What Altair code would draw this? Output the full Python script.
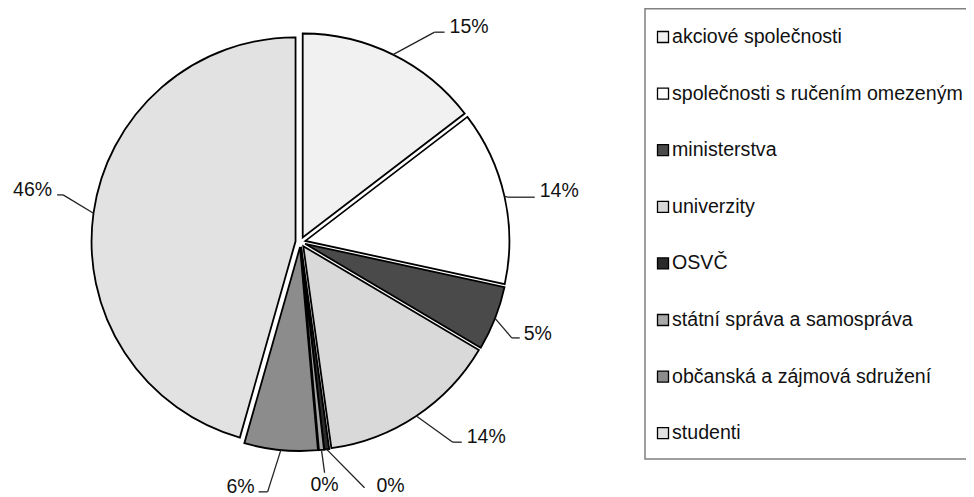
import altair as alt
import pandas as pd

# ---- data ----
categories = [
    "akciové společnosti",
    "společnosti s ručením omezeným",
    "ministerstva",
    "univerzity",
    "OSVČ",
    "státní správa a samospráva",
    "občanská a zájmová sdružení",
    "studenti",
]
shares = [14.6, 13.8, 5.1, 14.3, 0.4, 0.4, 5.8, 45.6]

# ---- styles ----
FILLS = ["#f1f1f1", "#ffffff", "#4a4a4a", "#d9d9d9", "#2a2a2a", "#a8a8a8", "#8c8c8c", "#e2e2e2"]
CX, CY = 292.5, 234.0      # pie centre (px)
R = 204                    # pie radius (px)
EXPLODE = 5                # slice explosion (px)
# leader-line layout (radius of elbow, angular nudge in degrees, horizontal tail)
LEAD_EXT = [249, 212, 232, 251.5, 254, 232, 252, 242]
LEAD_NUDGE = [6.3, 0.4, 3.0, -3.6, -7.4, -0.2, 2.1, 3.3]
LEAD_TAIL = [10, 27, 8, 9, 0, 0, -9, -6]
TEXT_ALIGN = ["left", "left", "left", "left", "left", "center", "right", "right"]
TEXT_DX = [5, 5, 4, 5, 12, 0, -4, -5]
TEXT_DY = [1, 0, 2, 1, 4, 18, 1, 1]
FONT = "Liberation Sans"
LEG_X_SYM, LEG_X_TXT = 655, 664
LEG_Y0, LEG_STEP = 29, 56.6
LEG_FONT_SIZE = 19.6
W, H = 958, 489

df = pd.DataFrame({
    "cat": categories,
    "val": shares,
    "order": list(range(len(categories))),
    "ext": LEAD_EXT,
    "nudge": LEAD_NUDGE,
    "tail": LEAD_TAIL,
    "align": TEXT_ALIGN,
    "tdx": TEXT_DX,
    "tdy": TEXT_DY,
})

base = (
    alt.Chart(df)
    .transform_window(cum="sum(val)", sort=[alt.SortField("order")], frame=[None, 0])
    .transform_joinaggregate(total="sum(val)")
    .transform_calculate(t0="2*PI*(datum.cum-datum.val)/datum.total")
    .transform_calculate(t1="2*PI*datum.cum/datum.total")
    .transform_calculate(mid="(datum.t0+datum.t1)/2")
    .transform_calculate(ox=f"{CX}+{EXPLODE}*sin(datum.mid)")
    .transform_calculate(oy=f"{CY}-{EXPLODE}*cos(datum.mid)")
    .transform_calculate(ax=f"datum.ox+{R}*sin(datum.mid)")
    .transform_calculate(ay=f"datum.oy-{R}*cos(datum.mid)")
    .transform_calculate(ea="datum.mid+datum.nudge*PI/180")
    .transform_calculate(ex=f"{CX}+datum.ext*sin(datum.ea)")
    .transform_calculate(ey=f"{CY}-datum.ext*cos(datum.ea)")
    .transform_calculate(hx="datum.ex+datum.tail")
    .transform_calculate(tx="datum.hx+datum.tdx")
    .transform_calculate(ty="datum.ey+datum.tdy")
    .transform_calculate(label="format(datum.val/datum.total,'.0%')")
    .transform_calculate(ly=f"{LEG_Y0}+datum.order*{LEG_STEP}")
)

fill_scale = alt.Scale(domain=categories, range=FILLS)

arcs = base.mark_arc(radius=R, stroke="black", strokeWidth=1.8, strokeJoin="miter").encode(
    theta=alt.Theta("t0:Q", scale=None),
    theta2=alt.Theta2("t1:Q"),
    x=alt.X("ox:Q", scale=None),
    y=alt.Y("oy:Q", scale=None),
    fill=alt.Fill("cat:N", scale=fill_scale, legend=None),
)

lead1 = base.mark_rule(color="#222222", strokeWidth=1.3).encode(
    x=alt.X("ax:Q", scale=None), y=alt.Y("ay:Q", scale=None),
    x2="ex:Q", y2="ey:Q",
)
lead2 = base.mark_rule(color="#222222", strokeWidth=1.3).encode(
    x=alt.X("ex:Q", scale=None), y=alt.Y("ey:Q", scale=None),
    x2="hx:Q", y2="ey:Q",
)

def label_layer(al):
    return base.transform_filter(f"datum.align=='{al}'").mark_text(
        align=al, baseline="alphabetic", font=FONT, fontSize=19.5, color="#111111"
    ).encode(
        x=alt.X("tx:Q", scale=None), y=alt.Y("ty:Q", scale=None), text="label:N"
    )

labels = [label_layer(a) for a in ["left", "center", "right"]]

legend_box = alt.Chart(pd.DataFrame({"k": [0]})).mark_rect(
    fill="white", fillOpacity=0, stroke="#808080", strokeWidth=1.5
).encode(
    x=alt.value(637), x2=alt.value(1200), y=alt.value(0.75), y2=alt.value(451)
)

leg_sym = base.mark_square(size=121, stroke="black", strokeWidth=1.3, opacity=1).encode(
    x=alt.value(LEG_X_SYM),
    y=alt.Y("ly:Q", scale=None),
    fill=alt.Fill("cat:N", scale=fill_scale, legend=None),
)
leg_txt = base.mark_text(align="left", baseline="middle", font=FONT, fontSize=LEG_FONT_SIZE, color="#111111").encode(
    x=alt.value(LEG_X_TXT),
    y=alt.Y("ly:Q", scale=None),
    text="cat:N",
)

chart = alt.layer(arcs, lead1, lead2, *labels, legend_box, leg_sym, leg_txt).properties(
    width=W, height=H, padding=0,
    autosize=alt.AutoSizeParams(type="none"),
    background="white",
).configure_view(stroke=None)

chart.save("out.html", embed_options={"renderer": "svg", "actions": False})
